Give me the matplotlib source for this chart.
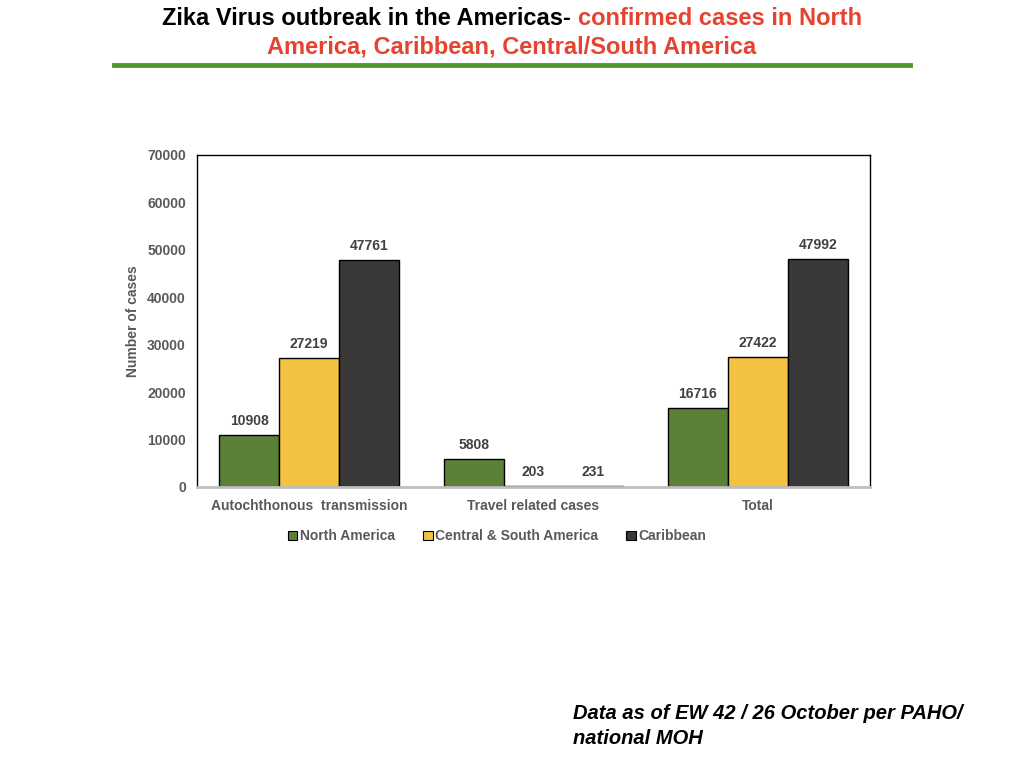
import numpy as np
import matplotlib.pyplot as plt
from matplotlib.patches import Patch
from matplotlib.lines import Line2D

# Datos
categorias = ['Autochthonous  transmission', 'Travel related cases', 'Total']
series = ['North America', 'Central & South America', 'Caribbean']
north_america = [10908, 5808, 16716]
central_south = [27219, 203, 27422]
caribbean = [47761, 231, 47992]
colores = ['#5B8139', '#F4C243', '#3A3839']

plt.rcParams['font.family'] = ['Liberation Sans', 'DejaVu Sans']
gris = '#595959'

fig = plt.figure(figsize=(10.24, 7.68), dpi=100)
ax = fig.add_axes([0.1924, 0.3659, 0.6572, 0.4323])

x = np.arange(len(categorias))
ancho = 0.267
valores = [north_america, central_south, caribbean]
for i, (vals, col) in enumerate(zip(valores, colores)):
    pos = x + (i - 1) * ancho
    ax.bar(pos, vals, ancho, color=col, edgecolor='black', linewidth=1)
    for p, v in zip(pos, vals):
        ax.text(p, v + 1500, str(v), ha='center', va='bottom', fontsize=10,
                fontweight='bold', color='#404040')

ax.set_xlim(-0.5, 2.5)
ax.set_ylim(0, 70000)
ax.set_yticks(np.arange(0, 70001, 10000))
ax.set_xticks(x)
ax.set_xticklabels(categorias)
ax.tick_params(axis='y', length=0, labelsize=10, colors=gris, pad=8)
ax.tick_params(axis='x', length=0, labelsize=10, colors=gris, pad=9)
for lab in ax.get_xticklabels() + ax.get_yticklabels():
    lab.set_fontweight('bold')
ax.spines['bottom'].set_color('#BFBFBF')
ax.spines['bottom'].set_linewidth(2)
for s in ['left', 'top', 'right']:
    ax.spines[s].set_color('black')
    ax.spines[s].set_linewidth(1)
ax.set_ylabel('Number of cases', fontsize=10, fontweight='bold', color=gris, labelpad=5)

handles = [Patch(facecolor=c, edgecolor='black', linewidth=0.8) for c in colores]
ax.legend(handles, series, loc='upper center', bbox_to_anchor=(0.446, -0.09), ncol=3,
          frameon=False, handlelength=0.7, handleheight=0.7,
          handletextpad=0.2, columnspacing=2.0,
          prop={'weight': 'bold', 'size': 10})
for t in ax.get_legend().get_texts():
    t.set_color(gris)

# Titulo en dos colores
fig.canvas.draw()
r = fig.canvas.get_renderer()
t1 = fig.text(0, 0.976, 'Zika Virus outbreak in the Americas- ', fontsize=17,
              fontweight='bold', color='black', va='center')
t2 = fig.text(0, 0.976, 'confirmed cases in North', fontsize=17,
              fontweight='bold', color='#E5432F', va='center')
w1 = t1.get_window_extent(r).width
w2 = t2.get_window_extent(r).width
x0 = (512 - (w1 + w2) / 2) / 1024
t1.set_x(x0)
t2.set_x(x0 + w1 / 1024)
fig.text(0.5, 0.939, 'America, Caribbean, Central/South America', fontsize=17,
         fontweight='bold', color='#E5432F', va='center', ha='center')

fig.add_artist(Line2D([0.111, 0.889], [0.915, 0.915], color='#4E9A2F', linewidth=3.5))

fig.text(0.56, 0.055, 'Data as of EW 42 / 26 October per PAHO/\nnational MOH', fontsize=14.5,
         fontweight='bold', style='italic', color='black', va='center', ha='left',
         linespacing=1.4)

fig.savefig('out.png', dpi=100)
